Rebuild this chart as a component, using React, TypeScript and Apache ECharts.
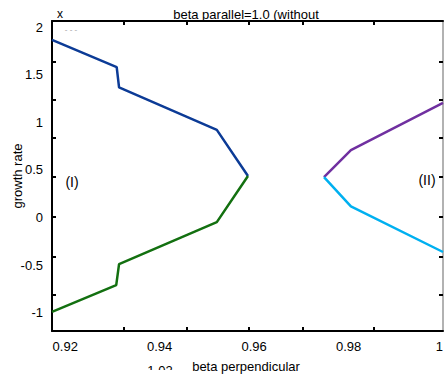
import React, { useEffect, useRef } from "react";
import * as echarts from "echarts";

const X_MIN = 0.9172;
const X_MAX = 1.0;
const Y_MIN = -1.19;
const Y_MAX = 2.063;

const xLabels = [0.92, 0.94, 0.96, 0.98, 1];
const yLabels = [-1, -0.5, 0, 0.5, 1, 1.5, 2];
const xTicks = [0.9325, 0.9458, 0.9588, 0.9704, 0.9853];
const yTicks = [1.636, 1.234, 0.835, 0.43, 0.006, -0.413, -0.812];

const blueX = [0.9172, 0.9309, 0.9314, 0.9521, 0.9587];
const blueY = [1.864, 1.58, 1.367, 0.92, 0.437];
const greenX = [0.9587, 0.9521, 0.9314, 0.9308, 0.9172];
const greenY = [0.437, -0.047, -0.488, -0.708, -0.99];
const purpleX = [0.9748, 0.9805, 1.0];
const purpleY = [0.425, 0.709, 1.203];
const cyanX = [0.9748, 0.9805, 1.0];
const cyanY = [0.425, 0.117, -0.361];

const pairs = (xs: number[], ys: number[]) => xs.map((x, i) => [x, ys[i]]);

const FONT = "Liberation Sans, Arial, sans-serif";

export default function App() {
  const ref = useRef<HTMLDivElement>(null);
  useEffect(() => {
    if (!ref.current) return;
    const chart = echarts.init(ref.current, undefined, { renderer: "svg" });
    const lineSeries = (name: string, data: number[][], color: string) => ({
      name,
      type: "line",
      data,
      showSymbol: false,
      symbol: "none",
      lineStyle: { color, width: 2.5 },
      itemStyle: { color },
      xAxisIndex: 0,
      yAxisIndex: 0,
      clip: true,
    });
    chart.setOption({
      animation: false,
      backgroundColor: "#ffffff",
      textStyle: { fontFamily: FONT },
      grid: { left: 52, right: 1, top: 21, bottom: 47, containLabel: false },
      xAxis: [
        {
          type: "value",
          position: "bottom",
          min: X_MIN,
          max: X_MAX,
          axisLine: { show: true, onZero: false, lineStyle: { color: "#000", width: 2 } },
          axisTick: { show: true, inside: true, length: 4, customValues: xTicks, lineStyle: { color: "#000", width: 2 } },
          axisLabel: {
            show: true,
            customValues: xLabels,
            color: "#000",
            fontSize: 13,
            fontFamily: FONT,
            margin: 9,
            alignMaxLabel: "right",
            formatter: (v: number) => String(v),
          },
          splitLine: { show: false },
        },
        {
          type: "value",
          position: "top",
          min: X_MIN,
          max: X_MAX,
          axisLine: { show: true, onZero: false, lineStyle: { color: "#000", width: 2 } },
          axisTick: { show: true, inside: true, length: 4, customValues: xTicks, lineStyle: { color: "#000", width: 2 } },
          axisLabel: { show: false },
          splitLine: { show: false },
        },
      ],
      yAxis: [
        {
          type: "value",
          position: "left",
          min: Y_MIN,
          max: Y_MAX,
          axisLine: { show: true, onZero: false, lineStyle: { color: "#000", width: 2 } },
          axisTick: { show: true, inside: true, length: 4, customValues: yTicks, lineStyle: { color: "#000", width: 2 } },
          axisLabel: {
            show: true,
            customValues: yLabels,
            color: "#000",
            fontSize: 13,
            fontFamily: FONT,
            margin: 9,
            formatter: (v: number) => String(v),
          },
          splitLine: { show: false },
        },
        {
          type: "value",
          position: "right",
          min: Y_MIN,
          max: Y_MAX,
          axisLine: { show: true, onZero: false, lineStyle: { color: "#999", width: 1.5 } },
          axisTick: { show: true, inside: true, length: 4, customValues: yTicks, lineStyle: { color: "#000", width: 2 } },
          axisLabel: { show: false },
          splitLine: { show: false },
        },
      ],
      series: [
        lineSeries("blue", pairs(blueX, blueY), "#0c3b96"),
        lineSeries("green", pairs(greenX, greenY), "#137010"),
        lineSeries("purple", pairs(purpleX, purpleY), "#7030a0"),
        lineSeries("cyan", pairs(cyanX, cyanY), "#00b0f0"),
      ],
      graphic: [
        {
          type: "text",
          x: 246,
          y: 14,
          style: { text: "beta parallel=1.0 (without", fill: "#000", font: `13px ${FONT}`, align: "center", verticalAlign: "middle" },
        },
        {
          type: "text",
          x: 60,
          y: 14,
          style: { text: "x", fill: "#000", font: `12px ${FONT}`, align: "center", verticalAlign: "middle" },
        },
        {
          type: "text",
          x: 71,
          y: 29,
          style: { text: "- - -", fill: "#999", font: `8px ${FONT}`, align: "center", verticalAlign: "middle" },
        },
        {
          type: "text",
          x: 246,
          y: 366,
          style: { text: "beta perpendicular", fill: "#000", font: `13px ${FONT}`, align: "center", verticalAlign: "middle" },
        },
        {
          type: "text",
          x: 160,
          y: 364,
          style: { text: "1.02", fill: "#000", font: `13px ${FONT}`, align: "center", verticalAlign: "top" },
        },
        {
          type: "rect",
          shape: { x: 140, y: 370, width: 44, height: 8 },
          style: { fill: "#fff" },
        },
        {
          type: "text",
          x: 17,
          y: 176,
          rotation: Math.PI / 2,
          style: { text: "growth rate", fill: "#000", font: `13px ${FONT}`, align: "center", verticalAlign: "middle" },
        },
        {
          type: "text",
          x: 72,
          y: 182,
          style: { text: "(I)", fill: "#000", font: `14px ${FONT}`, align: "center", verticalAlign: "middle" },
        },
        {
          type: "text",
          x: 427,
          y: 180,
          style: { text: "(II)", fill: "#000", font: `14px ${FONT}`, align: "center", verticalAlign: "middle" },
        },
      ],
    });
    return () => chart.dispose();
  }, []);
  return (
    <div
      ref={ref}
      style={{ position: "fixed", left: 0, top: 0, width: 446, height: 378, background: "#fff" }}
    />
  );
}
